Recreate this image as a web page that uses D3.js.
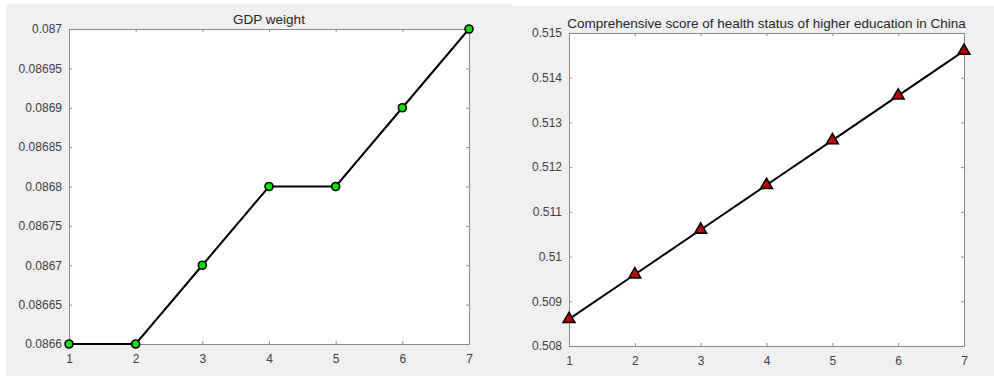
<!DOCTYPE html>
<html>
<head>
<meta charset="utf-8">
<script src="https://cdn.jsdelivr.net/npm/d3@7"></script>
<style>
	body { margin: 0; background: #fff; }
	svg { display: block; font-family: "Liberation Sans", Arial, sans-serif; }
	.axis path, .axis line { stroke: #8a8a8a; }
	.axis text { fill: #404040; font-size: 12px; }
</style>
</head>
<body>
<svg id="chart" width="994" height="376"></svg>
<script>
	// x positions shared by both panels
	var steps = [1, 2, 3, 4, 5, 6, 7];

	// left panel
	var gdpWeight = [0.0866, 0.0866, 0.0867, 0.0868, 0.0868, 0.0869, 0.0870];
	var gdpTicks = [0.0866, 0.08665, 0.0867, 0.08675, 0.0868, 0.08685, 0.0869, 0.08695, 0.087];

	// right panel
	var healthScore = [0.5086, 0.5096, 0.5106, 0.5116, 0.5126, 0.5136, 0.5146];
	var healthTicks = [0.508, 0.509, 0.51, 0.511, 0.512, 0.513, 0.514, 0.515];

	var svg = d3.select('#chart');

	var panels = [
		{
			bg: {x: 6, y: 4, w: 506, h: 372},
			box: {left: 69, top: 29, right: 469, bottom: 344},
			title: 'GDP weight',
			values: gdpWeight,
			ticks: gdpTicks,
			domain: [0.0866, 0.087],
			marker: 'circle'
		},
		{
			bg: {x: 512, y: 6, w: 482, h: 370},
			box: {left: 569, top: 33, right: 964, bottom: 346},
			title: 'Comprehensive score of health status of higher education in China',
			values: healthScore,
			ticks: healthTicks,
			domain: [0.508, 0.515],
			marker: 'triangle'
		}
	];

	panels.forEach(function (p)
	{
		svg.append('rect')
			.attr('x', p.bg.x).attr('y', p.bg.y)
			.attr('width', p.bg.w).attr('height', p.bg.h)
			.attr('fill', '#f0f0f0');

		var b = p.box;
		var x = d3.scaleLinear().domain([1, 7]).range([b.left, b.right]);
		var y = d3.scaleLinear().domain(p.domain).range([b.bottom, b.top]);

		svg.append('rect')
			.attr('x', b.left).attr('y', b.top)
			.attr('width', b.right - b.left).attr('height', b.bottom - b.top)
			.attr('fill', '#fff');

		// ticks point inward, matlab style, mirrored on top/right
		var fmt = function (d) { return String(+d.toPrecision(6)); };
		svg.append('g').attr('class', 'axis')
			.attr('transform', 'translate(0,' + b.bottom + ')')
			.call(d3.axisBottom(x).tickValues(steps).tickSize(-3).tickSizeOuter(0).tickPadding(10).tickFormat(d3.format('d')));
		svg.append('g').attr('class', 'axis')
			.attr('transform', 'translate(0,' + b.top + ')')
			.call(d3.axisTop(x).tickValues(steps).tickSize(-3).tickSizeOuter(0).tickFormat(''));
		svg.append('g').attr('class', 'axis')
			.attr('transform', 'translate(' + b.left + ',0)')
			.call(d3.axisLeft(y).tickValues(p.ticks).tickSize(-3).tickSizeOuter(0).tickPadding(7).tickFormat(fmt));
		svg.append('g').attr('class', 'axis')
			.attr('transform', 'translate(' + b.right + ',0)')
			.call(d3.axisRight(y).tickValues(p.ticks).tickSize(-3).tickSizeOuter(0).tickFormat(''));

		svg.append('text')
			.attr('x', (b.left + b.right) / 2).attr('y', b.top - 5)
			.attr('text-anchor', 'middle')
			.attr('font-size', 13.5).attr('fill', '#262626')
			.text(p.title);

		var line = d3.line()
			.x(function (d, i) { return x(steps[i]); })
			.y(function (d) { return y(d); });
		svg.append('path').datum(p.values)
			.attr('d', line)
			.attr('fill', 'none').attr('stroke', '#000').attr('stroke-width', 2);

		if (p.marker === 'circle')
		{
			svg.append('g').selectAll('circle').data(p.values).enter().append('circle')
				.attr('cx', function (d, i) { return x(steps[i]); })
				.attr('cy', function (d) { return y(d); })
				.attr('r', 4)
				.attr('fill', '#00e000').attr('stroke', '#000').attr('stroke-width', 1.6);
		}
		else
		{
			var tri = d3.symbol().type(d3.symbolTriangle).size(60);
			svg.append('g').selectAll('path').data(p.values).enter().append('path')
				.attr('d', tri)
				.attr('transform', function (d, i) { return 'translate(' + x(steps[i]) + ',' + y(d) + ')'; })
				.attr('fill', '#c00000').attr('stroke', '#000').attr('stroke-width', 1.6);
		}
	});
</script>
</body>
</html>
